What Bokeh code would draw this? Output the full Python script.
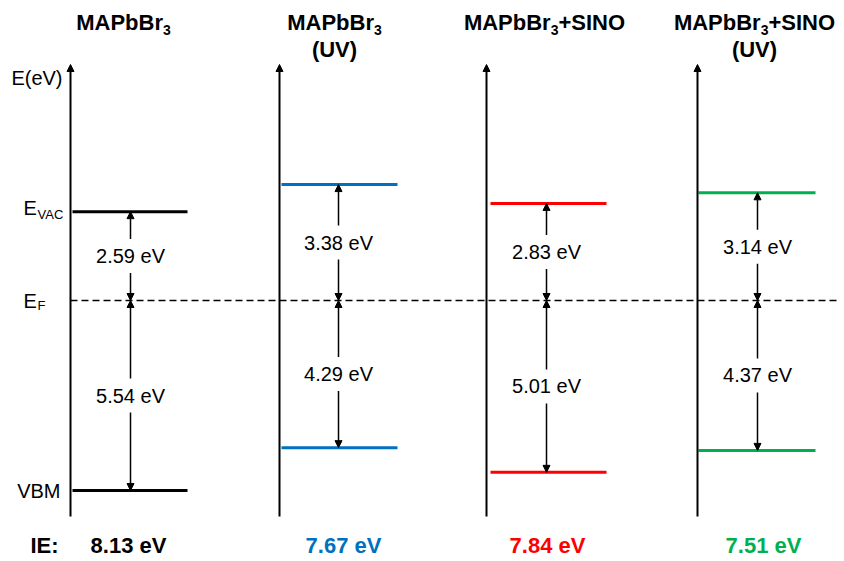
from bokeh.plotting import figure
from bokeh.models import Range1d, ColumnDataSource, Arrow, NormalHead
from bokeh.core.properties import value
from bokeh.embed import file_html
from bokeh.resources import INLINE

# ---- data -------------------------------------------------------------
title_main = ["MAPbBr", "MAPbBr", "MAPbBr", "MAPbBr"]
title_sub = ["3", "3", "3", "3"]
title_tail = ["", "", "+SINO", "+SINO"]
title_note = ["", "(UV)", "", "(UV)"]
evac_gap = [2.59, 3.38, 2.83, 3.14]     # E_VAC - E_F (eV)
vbm_gap = [5.54, 4.29, 5.01, 4.37]      # E_F - VBM (eV)
ie_values = [8.13, 7.67, 7.84, 7.51]    # ionisation energy (eV)
level_colors = ["black", "#0070C0", "#FF0000", "#00B050"]
ie_colors = ["black", "#0070C0", "#FF0000", "#00B050"]

# ---- layout -------------------------------------------------------------
W, H = 844, 561
K = 34.3          # pixels per eV
EF_ROW = 300      # pixel row of the Fermi level
FONT = value("Liberation Sans")

def row(py):
    """pixel row -> energy coordinate (E_F = 0)"""
    return (EF_ROW - py) / K

axis_x = [70, 279, 486, 697]
level_x0 = [72, 281, 490, 698]
level_x1 = [187, 397, 606, 815]
arrow_x = [130, 338, 546, 757]
title_cx = [123, 334, 544, 754]
ie_cx = [128, 343, 547, 763]

BOLD_W = {"M": 833, "A": 722, "P": 667, "b": 611, "B": 722, "r": 389, "3": 556,
          "+": 584, "S": 667, "I": 278, "N": 722, "O": 778}

def bold_width(s, size):
    return sum(BOLD_W.get(c, 600) for c in s) * size / 1000.0

p = figure(width=W, height=H, x_range=Range1d(0, W), y_range=Range1d(row(H), row(0)),
           output_backend="svg", toolbar_location=None, min_border=0,
           x_axis_type=None, y_axis_type=None)
p.grid.visible = False
p.outline_line_color = None
p.background_fill_color = "white"

# energy axes with arrow tips
axis_src = ColumnDataSource(dict(xs=axis_x, ys=[row(516)] * 4, xe=axis_x, ye=[row(64)] * 4))
p.add_layout(Arrow(end=NormalHead(size=7, fill_color="black", line_color="black", line_width=1),
                   x_start="xs", y_start="ys", x_end="xe", y_end="ye",
                   line_width=2, line_color="black", source=axis_src))

# Fermi level
p.segment(x0=[70], y0=[0], x1=[840], y1=[0], line_color="black", line_width=1.5, line_dash="7 4")

# vacuum levels and valence-band maxima
tops = [g for g in evac_gap]
bottoms = [-g for g in vbm_gap]
p.segment(x0=level_x0 + level_x0, y0=tops + bottoms, x1=level_x1 + level_x1, y1=tops + bottoms,
          line_color=level_colors + level_colors, line_width=3)

# double arrows, broken around their value labels
gap = 17 / K
xs, ys, xe, ye = [], [], [], []
lab_x, lab_y, lab_t = [], [], []
for i in range(4):
    for end in (tops[i], bottoms[i]):
        mid = end / 2
        sgn = 1 if end > 0 else -1
        xs += [arrow_x[i], arrow_x[i]]
        ys += [mid + sgn * gap, mid - sgn * gap]
        xe += [arrow_x[i], arrow_x[i]]
        ye += [end, 0]
        lab_x.append(arrow_x[i])
        lab_y.append(mid)
        lab_t.append(f"{abs(end):.2f} eV")
arr_src = ColumnDataSource(dict(xs=xs, ys=ys, xe=xe, ye=ye))
p.add_layout(Arrow(end=NormalHead(size=7, fill_color="black", line_color="black", line_width=1),
                   x_start="xs", y_start="ys", x_end="xe", y_end="ye",
                   line_width=1.5, line_color="black", source=arr_src))
p.text(x=lab_x, y=lab_y, text=lab_t, text_font=FONT, text_font_size="20px",
       text_align="center", text_baseline="middle", text_color="black")

# titles (with subscript 3)
MAIN, SUB = 22, 14
tx, ty, tt, ts = [], [], [], []
for i in range(4):
    w_main = bold_width(title_main[i], MAIN)
    w_sub = bold_width(title_sub[i], SUB)
    w_tail = bold_width(title_tail[i], MAIN)
    x0 = title_cx[i] - (w_main + w_sub + w_tail) / 2
    tx += [x0, x0 + w_main]
    ty += [row(22), row(29)]
    tt += [title_main[i], title_sub[i]]
    ts += [f"{MAIN}px", f"{SUB}px"]
    if title_tail[i]:
        tx.append(x0 + w_main + w_sub)
        ty.append(row(22))
        tt.append(title_tail[i])
        ts.append(f"{MAIN}px")
p.text(x=tx, y=ty, text=tt, text_font_size=ts, text_font=FONT, text_font_style="bold",
       text_align="left", text_baseline="middle", text_color="black")
note_x = [title_cx[i] for i in range(4) if title_note[i]]
note_t = [n for n in title_note if n]
p.text(x=note_x, y=[row(49)] * len(note_x), text=note_t, text_font=FONT, text_font_size="22px",
       text_font_style="bold", text_align="center", text_baseline="middle", text_color="black")

# axis and level names
p.text(x=[62], y=[row(77)], text=["E(eV)"], text_font=FONT, text_font_size="20px",
       text_align="right", text_baseline="middle", text_color="black")
p.text(x=[60], y=[bottoms[0]], text=["VBM"], text_font=FONT, text_font_size="20px",
       text_align="right", text_baseline="middle", text_color="black")
p.text(x=[23, 23], y=[tops[0] + 4 / K, 0], text=["E", "E"], text_font=FONT, text_font_size="20px",
       text_align="left", text_baseline="middle", text_color="black")
p.text(x=[37, 37], y=[tops[0] - 3 / K, -5 / K], text=["VAC", "F"], text_font=FONT,
       text_font_size="13px", text_align="left", text_baseline="middle", text_color="black")

# ionisation energies
p.text(x=[30], y=[row(545)], text=["IE:"], text_font=FONT, text_font_size="22px",
       text_font_style="bold", text_align="left", text_baseline="middle", text_color="black")
p.text(x=ie_cx, y=[row(545)] * 4, text=[f"{v:.2f} eV" for v in ie_values], text_font=FONT,
       text_font_size="22px", text_font_style="bold", text_align="center",
       text_baseline="middle", text_color=ie_colors)

open("out.html", "w").write(file_html(p, INLINE))
